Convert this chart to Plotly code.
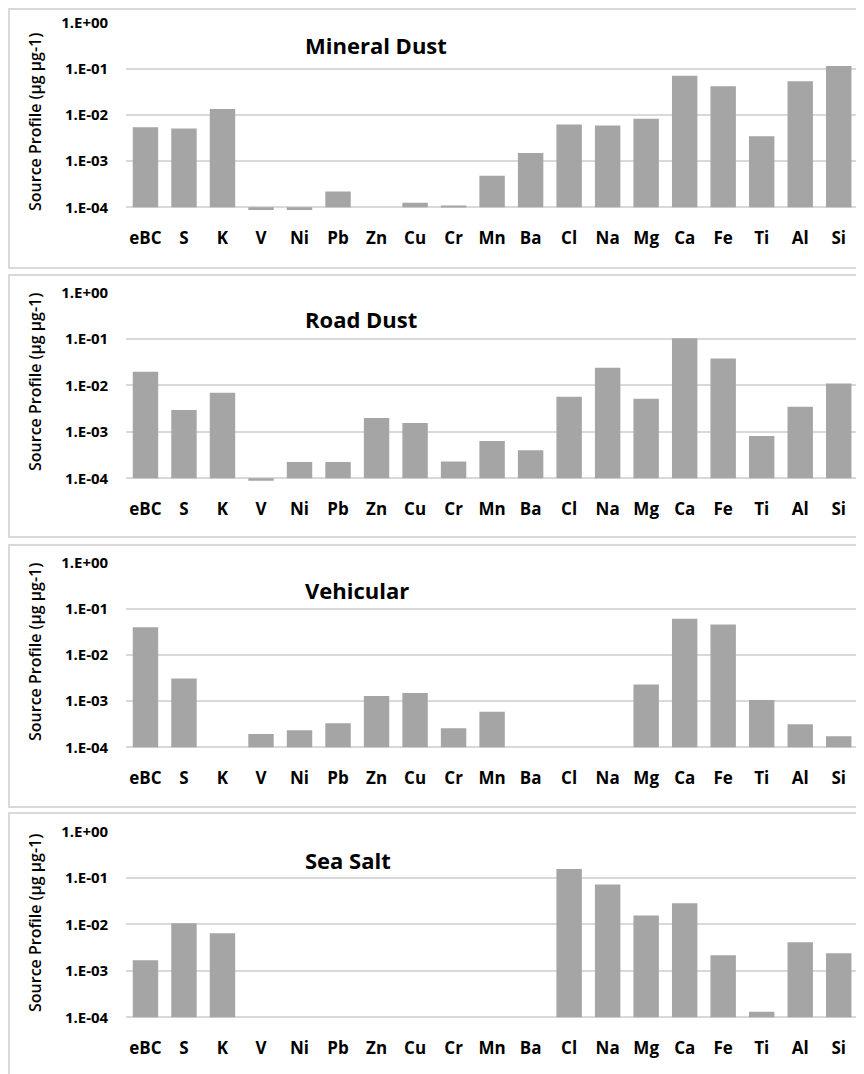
import plotly.graph_objects as go

# ---------------- data ----------------
elements = ["eBC", "S", "K", "V", "Ni", "Pb", "Zn", "Cu", "Cr", "Mn", "Ba",
            "Cl", "Na", "Mg", "Ca", "Fe", "Ti", "Al", "Si"]

panel_titles = ["Mineral Dust", "Road Dust", "Vehicular", "Sea Salt"]

mineral_dust = [5.4e-3, 5.1e-3, 1.35e-2, 8.7e-5, 8.7e-5, 2.2e-4, None, 1.26e-4, 1.07e-4, 4.85e-4,
                1.5e-3, 6.2e-3, 5.9e-3, 8.3e-3, 7.1e-2, 4.2e-2, 3.45e-3, 5.4e-2, 1.15e-1]
road_dust = [1.99e-2, 2.97e-3, 7.0e-3, 8.9e-5, 2.25e-4, 2.25e-4, 2.0e-3, 1.56e-3, 2.3e-4, 6.4e-4,
             4.0e-4, 5.7e-3, 2.42e-2, 5.2e-3, 1.04e-1, 3.8e-2, 8.2e-4, 3.5e-3, 1.1e-2]
vehicular = [3.97e-2, 3.1e-3, None, 1.95e-4, 2.33e-4, 3.3e-4, 1.3e-3, 1.5e-3, 2.58e-4, 5.9e-4,
             None, None, None, 2.3e-3, 6.1e-2, 4.6e-2, 1.06e-3, 3.15e-4, 1.73e-4]
sea_salt = [1.69e-3, 1.06e-2, 6.45e-3, None, None, None, None, None, None, None,
            None, 1.57e-1, 7.3e-2, 1.57e-2, 2.86e-2, 2.17e-3, 1.32e-4, 4.13e-3, 2.39e-3]

series = [mineral_dust, road_dust, vehicular, sea_salt]

y_tick_vals = [1e-4, 1e-3, 1e-2, 1e-1, 1e0]
y_tick_text = ["1.E-04", "1.E-03", "1.E-02", "1.E-01", "1.E+00"]
axis_base = 1e-4
y_title = "Source Profile (µg µg-1)"

# ---------------- layout (screen pixels) ----------------
W, H = 864, 1074
OFF = 8  # default page body margin
FONT = "Open Sans"
BAR = "#A5A5A5"
GRID = "#D9D9D9"

top_grid = [22.7, 292.7, 562.7, 831.7]      # y of 1.E+00 line
bot_grid = [207.3, 478.3, 747.3, 1017.3]    # y of 1.E-04 line
boxes = [(9, 268), (275, 537), (545, 807), (813, 1090)]
title_y = [45, 319, 590, 860]
ytitle_y = [122, 382, 652, 923]
plot_x0, plot_x1 = 126.2, 858.0
lo, hi = -4.1, 0.005


def px(x):
    return (x - OFF) / W


def py(y):
    return 1 - (y - OFF) / H


fig = go.Figure()
shapes = []
annotations = []

for i, (name, vals) in enumerate(zip(panel_titles, series)):
    ax = "" if i == 0 else str(i + 1)
    d = (bot_grid[i] - top_grid[i]) / 4
    top_px = top_grid[i] - hi * d
    bot_px = bot_grid[i] + (-4 - lo) * d
    ys = [None if v is None else v - axis_base for v in vals]
    fig.add_trace(go.Bar(
        x=elements, y=ys, base=axis_base,
        marker=dict(color=BAR, line=dict(width=0)),
        xaxis="x" + ax, yaxis="y" + ax, showlegend=False,
        width=0.66,
    ))
    fig.layout["xaxis" + ax] = dict(
        domain=[px(plot_x0), px(plot_x1)], anchor="y" + ax,
        showgrid=False, showline=False, zeroline=False, ticks="",
        tickfont=dict(family=FONT, size=17, color="#000000", weight="bold"),
        ticklabelstandoff=14, categoryorder="array", categoryarray=elements,
        fixedrange=True, automargin=False,
    )
    fig.layout["yaxis" + ax] = dict(
        domain=[py(bot_px), py(top_px)], anchor="x" + ax,
        type="log", range=[lo, hi],
        tickvals=y_tick_vals, ticktext=y_tick_text,
        showgrid=True, gridcolor=GRID, gridwidth=1.5,
        showline=False, zeroline=False, ticks="",
        tickfont=dict(family=FONT, size=15, color="#000000", weight="bold"),
        ticklabelstandoff=17, fixedrange=True, automargin=False,
    )
    x0b, x1b = 9, 880
    shapes.append(dict(type="rect", xref="paper", yref="paper",
                       x0=px(x0b), x1=px(x1b), y0=py(boxes[i][1]), y1=py(boxes[i][0]),
                       line=dict(color=GRID, width=2), fillcolor="rgba(0,0,0,0)", layer="below"))
    annotations.append(dict(text=name, xref="paper", yref="paper", x=px(303), y=py(title_y[i]),
                            xanchor="left", yanchor="middle", showarrow=False,
                            font=dict(family=FONT, size=22, color="#000000", weight="bold")))
    annotations.append(dict(text=y_title, xref="paper", yref="paper", x=px(35), y=py(ytitle_y[i]),
                            xanchor="center", yanchor="middle", showarrow=False, textangle=-90,
                            font=dict(family=FONT, size=16, color="#000000", weight=600)))

fig.update_layout(
    width=W, height=H, margin=dict(l=0, r=0, t=0, b=0, autoexpand=False),
    paper_bgcolor="white", plot_bgcolor="white",
    shapes=shapes, annotations=annotations, bargap=0.34,
)

fig.write_html("out.html")
